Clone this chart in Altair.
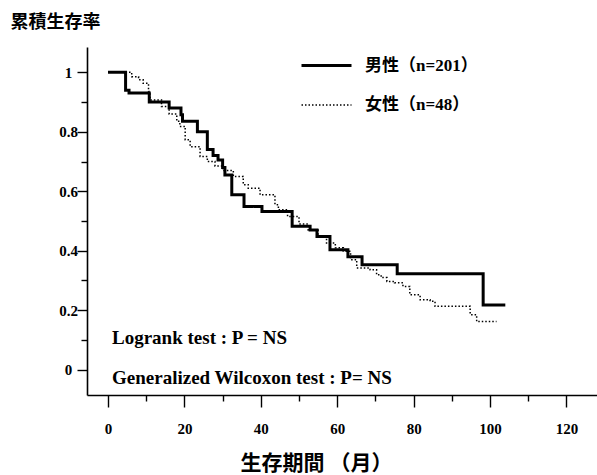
import altair as alt
import pandas as pd

male_label = "男性（n=201）"
female_label = "女性（n=48）"

male_months = [0, 4.6, 5.5, 10.8, 16.0, 19.1, 19.5, 23.4, 26.0, 27.5, 28.8, 30.0, 30.6,
               32.4, 35.6, 40.3, 48.2, 52.9, 54.7, 58.1, 62.8, 66.5, 75.7, 98.2, 104]
male_surv = [1.0, 0.94, 0.93, 0.90, 0.88, 0.857, 0.835, 0.80, 0.74, 0.72, 0.705, 0.68, 0.655,
             0.588, 0.549, 0.532, 0.482, 0.47, 0.448, 0.403, 0.38, 0.353, 0.323, 0.218, 0.218]

female_months = [0, 6.2, 8, 9.2, 10.6, 11, 14, 16, 18, 18.8, 20.2, 21.5, 24.1, 26, 28, 30,
                 32.8, 35.4, 36.7, 39.8, 43.7, 44.6, 47, 50, 52.4, 55, 57.2, 59.5, 61.6, 63.5,
                 65.1, 68.6, 70.3, 71.5, 73, 75, 77.2, 79, 81.7, 84.3, 85.6, 94.8, 96.5, 101.7]
female_surv = [1.0, 0.985, 0.975, 0.963, 0.935, 0.907, 0.885, 0.86, 0.835, 0.818, 0.773, 0.75,
               0.717, 0.70, 0.685, 0.67, 0.65, 0.622, 0.61, 0.588, 0.555, 0.538, 0.515, 0.49,
               0.47, 0.45, 0.426, 0.41, 0.398, 0.37, 0.342, 0.336, 0.319, 0.31, 0.297, 0.292,
               0.28, 0.252, 0.235, 0.23, 0.213, 0.185, 0.162, 0.162]

y_major = [0, 0.2, 0.4, 0.6, 0.8, 1]
y_minor = [0.1, 0.3, 0.5, 0.7, 0.9]
x_major = [0, 20, 40, 60, 80, 100, 120]
x_minor = [10, 30, 50, 70, 90, 110]

y_title = "累積生存率"
x_title = "生存期間 （月）"
note1 = "Logrank test : P = NS"
note2 = "Generalized Wilcoxon test : P= NS"

df = pd.concat([
    pd.DataFrame({"month": male_months, "surv": male_surv, "group": male_label}),
    pd.DataFrame({"month": female_months, "surv": female_surv, "group": female_label}),
])

SERIF = "Liberation Serif"
CJK = "Noto Sans CJK JP"
MIXED = "Liberation Serif, Noto Sans CJK JP"

x_scale = alt.Scale(domain=[-5.5, 128], nice=False, zero=False)
y_scale = alt.Scale(domain=[-0.085, 1.085], nice=False, zero=False)

groups = [male_label, female_label]
legend = alt.Legend(
    orient="none", legendX=213, legendY=-8, title=None,
    symbolType="stroke", symbolSize=2500, symbolStrokeColor="black",
    labelFont=MIXED, labelFontSize=17, labelFontWeight="bold", labelColor="black",
    labelOffset=12, rowPadding=5,
)

base = alt.Chart(df)

lines = base.mark_line(interpolate="step-after", color="black").encode(
    x=alt.X("month:Q", scale=x_scale,
            axis=alt.Axis(values=x_major, format="d", title=x_title, tickSize=12,
                          labelPadding=14, labelFont=SERIF, labelFontWeight="bold",
                          labelFontSize=15, titleFont=CJK, titleFontSize=21,
                          titleFontWeight="bold", titleX=229, titleY=68,
                          titleAlign="center", titleBaseline="middle", orient="bottom")),
    y=alt.Y("surv:Q", scale=y_scale,
            axis=alt.Axis(values=y_major, format="~g", title=y_title, tickSize=10,
                          labelPadding=9, labelAlign="center", labelFont=SERIF,
                          labelFontWeight="bold", labelFontSize=15, titleFont=CJK,
                          titleFontSize=18, titleFontWeight="bold", titleAngle=0,
                          titleX=-77, titleY=-25, titleAlign="left",
                          titleBaseline="middle", orient="left")),
    strokeDash=alt.StrokeDash("group:N", scale=alt.Scale(domain=groups, range=[[1, 0], [1.5, 2.0]]),
                              legend=legend),
    strokeWidth=alt.StrokeWidth("group:N", scale=alt.Scale(domain=groups, range=[3, 1.5]),
                                legend=legend),
)

minor = base.mark_point(opacity=0).encode(
    x=alt.X("month:Q", scale=x_scale,
            axis=alt.Axis(values=x_minor, labels=False, domain=False, tickSize=6,
                          title=None, orient="bottom")),
    y=alt.Y("surv:Q", scale=y_scale,
            axis=alt.Axis(values=y_minor, labels=False, domain=False, tickSize=6,
                          title=None, orient="left")),
)

ann1 = alt.Chart(pd.DataFrame({"t": [note1]})).mark_text(
    align="left", baseline="middle", font=SERIF, fontWeight="bold", fontSize=19, color="black"
).encode(text="t:N", x=alt.value(25), y=alt.value(291))

ann2 = alt.Chart(pd.DataFrame({"t": [note2]})).mark_text(
    align="left", baseline="middle", font=SERIF, fontWeight="bold", fontSize=19, color="black"
).encode(text="t:N", x=alt.value(25), y=alt.value(331))

chart = alt.layer(lines, minor, ann1, ann2).resolve_axis(
    x="independent", y="independent"
).properties(
    width=510, height=348, autosize="none",
    padding={"left": 87, "top": 47, "right": 0, "bottom": 80},
).configure_view(stroke=None).configure_axis(
    grid=False, domainColor="black", tickColor="black", labelColor="black",
    titleColor="black", domainWidth=1.6, tickWidth=1.4,
)

chart.save("out.html", embed_options={"renderer": "svg", "actions": False})
